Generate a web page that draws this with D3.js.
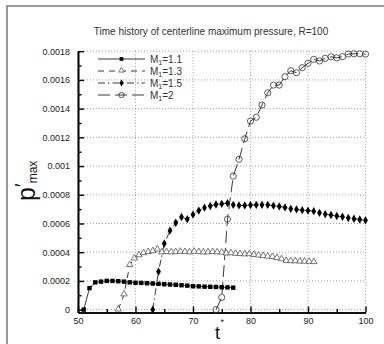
<!DOCTYPE html>
<html>
<meta charset="utf-8">
<style>
    body { margin: 0; background: #fff; }
    text { font-family: 'Liberation Sans', Arial, sans-serif; fill: #222; }
</style>
<body>
<svg id="chart" width="384" height="344"></svg>
<script src="https://d3js.org/d3.v7.min.js"></script>
<script>
// ---- data ----
const xTicks = [50, 60, 70, 80, 90, 100];
const xMinor = [55, 65, 75, 85, 95];
const yTicks = [0, 0.0002, 0.0004, 0.0006, 0.0008, 0.001, 0.0012, 0.0014, 0.0016, 0.0018];
const yMinor = [0.0001, 0.0003, 0.0005, 0.0007, 0.0009, 0.0011, 0.0013, 0.0015, 0.0017];
const yLabels = ["0", "0.0002", "0.0004", "0.0006", "0.0008", "0.001", "0.0012", "0.0014", "0.0016", "0.0018"];

const seriesNames = ["1.1", "1.3", "1.5", "2"];

const tM11 = [51, 52, 53, 54, 55, 56, 57, 58, 59, 60, 61, 62, 63, 64, 65, 66, 67, 68, 69, 70, 71, 72, 73, 74, 75, 76, 77];
const pM11 = [0, 0.000150, 0.000190, 0.000195, 0.000200, 0.000200, 0.000198, 0.000195, 0.000190, 0.000187,
    0.000186, 0.000184, 0.000182, 0.000180, 0.000177, 0.000175, 0.000173, 0.000170, 0.000167, 0.000163,
    0.000162, 0.000160, 0.000159, 0.000158, 0.000156, 0.000155, 0.000153];

const tM13 = [57, 58, 59, 59.8, 60.6, 61.4, 62.2, 63.0, 63.8, 64.6, 65.4, 66.2, 67.0, 67.8, 68.6, 69.4, 70.2,
    71.0, 71.8, 72.6, 73.4, 74.2, 75.0, 75.8, 76.6, 77.4, 78.2, 79.0, 79.8, 80.6, 81.4, 82.2, 83.0, 83.8,
    84.6, 85.4, 86.2, 87.0, 87.8, 88.6, 89.4, 90.2, 91.0];
const pM13 = [0, 0.000105, 0.000310, 0.000355, 0.000378, 0.000392, 0.000400, 0.000406, 0.000418, 0.000398,
    0.000400, 0.000398, 0.000400, 0.000402, 0.000400, 0.000398, 0.000402, 0.000400, 0.000397, 0.000398,
    0.000400, 0.000398, 0.000396, 0.000390, 0.000392, 0.000388, 0.000386, 0.000384, 0.000385, 0.000380,
    0.000376, 0.000372, 0.000368, 0.000365, 0.000358, 0.000350, 0.000338, 0.000336, 0.000336, 0.000334,
    0.000333, 0.000332, 0.000330];

const tM15 = [63, 64, 65, 66, 67, 68, 69, 70, 71, 72, 73, 74, 75, 76, 77, 78, 79, 80, 81, 82, 83, 84, 85,
    86, 87, 88, 89, 90, 91, 92, 93, 94, 95, 96, 97, 98, 99, 100];
const pM15 = [0, 0.000265, 0.000460, 0.000550, 0.000605, 0.000645, 0.000630, 0.000662, 0.000690, 0.000710,
    0.000722, 0.000732, 0.000737, 0.000742, 0.000730, 0.000726, 0.000726, 0.000728, 0.000730, 0.000730,
    0.000730, 0.000724, 0.000719, 0.000712, 0.000702, 0.000698, 0.000693, 0.000689, 0.000686, 0.000674,
    0.000665, 0.000659, 0.000652, 0.000647, 0.000638, 0.000633, 0.000628, 0.000622];

const tM2 = [74, 75, 76, 77, 78, 79, 80, 81, 82, 83, 84, 85, 86, 87, 88, 89, 90, 91, 92, 93, 94, 95, 96, 97, 98, 99, 100];
const pM2 = [0, 0.000085, 0.000630, 0.000930, 0.001047, 0.001190, 0.001313, 0.001340, 0.001425, 0.001510,
    0.001564, 0.001564, 0.001622, 0.001664, 0.001650, 0.001685, 0.001716, 0.001743, 0.001732, 0.001750,
    0.001761, 0.001754, 0.001762, 0.001780, 0.001782, 0.001782, 0.001780];

// ---- drawing ----
const chart = d3.select("#chart");

const x = d3.scaleLinear().domain([50, 100]).range([78, 365.5]);
const y = d3.scaleLinear().domain([-0.00002, 0.0018]).range([312.5, 51.2]);

const series = [
    { name: seriesNames[0], t: tM11, p: pM11, dash: null, marker: "square" },
    { name: seriesNames[1], t: tM13, p: pM13, dash: "6,5", marker: "triangle" },
    { name: seriesNames[2], t: tM15, p: pM15, dash: "7,3,1.5,3", marker: "diamond" },
    { name: seriesNames[3], t: tM2, p: pM2, dash: "12,5", marker: "circle" }
];

// outer frame (left/top)
chart.append("line").attr("x1", 7).attr("x2", 7).attr("y1", 5).attr("y2", 344)
    .attr("stroke", "#9a9a9a").attr("stroke-width", 2);
chart.append("line").attr("x1", 6).attr("x2", 384).attr("y1", 6).attr("y2", 6)
    .attr("stroke", "#9a9a9a").attr("stroke-width", 2);

// title
chart.append("text")
    .attr("x", 211).attr("y", 35)
    .attr("text-anchor", "middle")
    .style("font-size", "10px")
    .style("fill", "#333")
    .text("Time history of centerline maximum pressure, R=100");

// grid
const grid = chart.append("g").attr("stroke", "#888").attr("stroke-width", 0.8)
    .attr("stroke-dasharray", "1,2");
grid.selectAll("vline").data(xTicks).enter().append("line")
    .attr("x1", d => x(d)).attr("x2", d => x(d))
    .attr("y1", y(0.0018)).attr("y2", y(-0.00002));
grid.selectAll("hline").data(yTicks).enter().append("line")
    .attr("x1", x(50)).attr("x2", x(100))
    .attr("y1", d => y(d)).attr("y2", d => y(d));

// axes
const yAxis = chart.append("g").attr("transform", "translate(" + x(50) + ",0)")
    .call(d3.axisLeft(y).tickValues(yTicks).tickSizeInner(-6).tickSizeOuter(0).tickPadding(8)
        .tickFormat((d, i) => yLabels[i]));
const yAxisMinor = chart.append("g").attr("transform", "translate(" + x(50) + ",0)")
    .call(d3.axisLeft(y).tickValues(yMinor).tickSizeInner(-3.5).tickSizeOuter(0).tickFormat(""));
const xAxis = chart.append("g").attr("transform", "translate(0," + y(-0.00002) + ")")
    .call(d3.axisBottom(x).tickValues(xTicks).tickSizeInner(-6).tickSizeOuter(0).tickPadding(5));
const xAxisMinor = chart.append("g").attr("transform", "translate(0," + y(-0.00002) + ")")
    .call(d3.axisBottom(x).tickValues(xMinor).tickSizeInner(-3.5).tickSizeOuter(0).tickFormat(""));

[yAxis, yAxisMinor, xAxis, xAxisMinor].forEach(a => {
    a.select(".domain").attr("stroke", "#000").attr("stroke-width", 1.6);
    a.selectAll(".tick line").attr("stroke", "#000").attr("stroke-width", 1.4);
    a.selectAll(".tick text").style("font-size", "9px").style("font-family", "'Liberation Sans', Arial, sans-serif").attr("fill", "#333");
});

// lines
const line = d3.line().x(d => x(d[0])).y(d => y(d[1]));
series.forEach(s => {
    const pts = s.t.map((t, i) => [t, s.p[i]]);
    s.pts = pts;
    chart.append("path")
        .datum(pts)
        .attr("d", line)
        .attr("fill", "none")
        .attr("stroke", "#222")
        .attr("stroke-width", 0.9)
        .attr("stroke-dasharray", s.dash);
});

function drawMarker(g, kind, cx, cy, scale) {
    const k = scale || 1;
    if (kind === "square") {
        g.append("rect").attr("x", cx - 2.2 * k).attr("y", cy - 2.2 * k)
            .attr("width", 4.4 * k).attr("height", 4.4 * k).attr("fill", "#000");
    } else if (kind === "triangle") {
        g.append("path")
            .attr("d", d3.symbol().type(d3.symbolTriangle).size(18 * k * k)())
            .attr("transform", "translate(" + cx + "," + (cy - 0.5) + ")")
            .attr("fill", "#fff").attr("stroke", "#555").attr("stroke-width", 0.8);
    } else if (kind === "diamond") {
        g.append("path")
            .attr("d", d3.symbol().type(d3.symbolDiamond).size(20 * k * k)())
            .attr("transform", "translate(" + cx + "," + cy + ")")
            .attr("fill", "#000");
    } else {
        g.append("circle").attr("cx", cx).attr("cy", cy).attr("r", 3.1 * k)
            .attr("fill", "none").attr("stroke", "#333").attr("stroke-width", 0.8);
    }
}

series.forEach(s => {
    const g = chart.append("g");
    s.pts.forEach(d => drawMarker(g, s.marker, x(d[0]), y(d[1]), 1));
});

// legend
const legendX1 = 98, legendX2 = 145, legendY0 = 59, legendStep = 12;
series.forEach((s, i) => {
    const ly = legendY0 + i * legendStep;
    chart.append("line")
        .attr("x1", legendX1).attr("x2", legendX2).attr("y1", ly).attr("y2", ly)
        .attr("stroke", "#222").attr("stroke-width", 0.9)
        .attr("stroke-dasharray", s.dash);
    const g = chart.append("g");
    drawMarker(g, s.marker, (legendX1 + legendX2) / 2, ly, 0.85);
    const t = chart.append("text").attr("x", 150).attr("y", ly + 3.5)
        .style("font-size", "10px").style("fill", "#333");
    t.append("tspan").text("M");
    t.append("tspan").text("1").style("font-size", "7px").attr("dy", 2.5);
    t.append("tspan").text("=" + s.name).attr("dy", -2.5);
});

// axis titles
const yl = chart.append("text")
    .attr("transform", "translate(35,201)rotate(-90)")
    .style("fill", "#111");
yl.append("tspan").text("p").style("font-size", "25px");
yl.append("tspan").text("\u2032").style("font-size", "20px").attr("dy", -6);
yl.append("tspan").text("max").style("font-size", "12px").attr("dy", 8);

chart.append("text").attr("x", 215).attr("y", 339)
    .style("font-size", "18px").style("fill", "#111")
    .text("t");
chart.append("text").attr("x", 220.5).attr("y", 325)
    .style("font-size", "9px").style("fill", "#111")
    .text("*");
</script>
</body>
</html>
